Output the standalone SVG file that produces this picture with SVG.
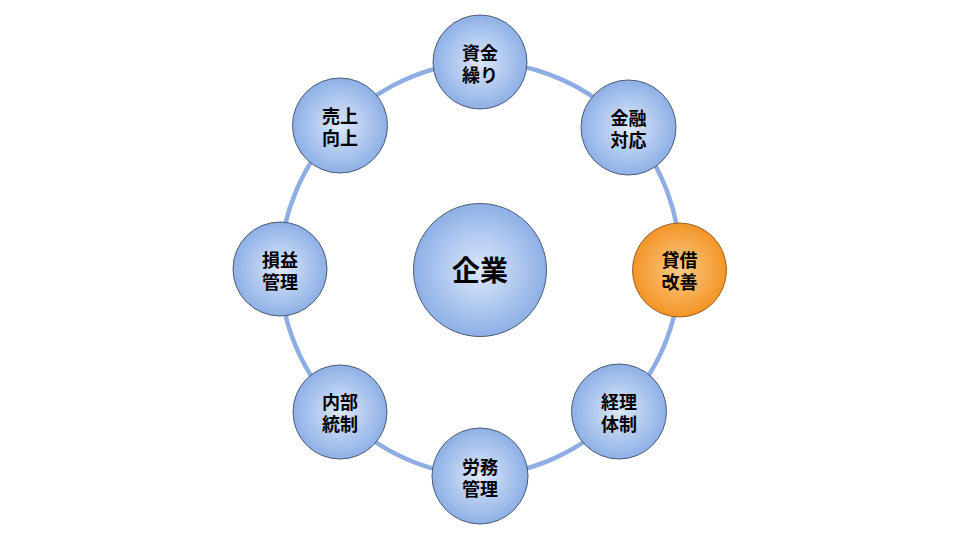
<svg xmlns="http://www.w3.org/2000/svg" width="960" height="540" viewBox="0 0 960 540">
<defs>
<radialGradient id="gb" cx="50%" cy="50%" r="50%">
<stop offset="0" stop-color="#dde8fb"/>
<stop offset="1" stop-color="#8eb0e6"/>
</radialGradient>
<radialGradient id="go" cx="50%" cy="50%" r="50%">
<stop offset="0" stop-color="#fcc985"/>
<stop offset="1" stop-color="#f39528"/>
</radialGradient>
<style>
.n{fill:url(#gb);stroke:#4d5b74;stroke-width:1}
.o{fill:url(#go);stroke:#9a6226;stroke-width:1}
.t{font-family:"Noto Sans CJK JP","Noto Sans CJK SC",sans-serif;font-weight:bold;font-size:18px;fill:#000;text-anchor:middle;dominant-baseline:central}
.c{font-size:28px}
.r{fill:none;stroke:#8eaee3;stroke-width:4.5}
</style>
</defs>
<rect width="960" height="540" fill="#fff"/>
<g id="connectors">
<path class="r" d="M480,62 A203,203 0 0 1 628,127 A203,203 0 0 1 680,270 A203,203 0 0 1 619,412 A203,203 0 0 1 480,476 A203,203 0 0 1 340,412 A203,203 0 0 1 280,269 A203,203 0 0 1 340,126 A203,203 0 0 1 480,62 Z"/>
</g>
<g id="center"><circle class="n" cx="480" cy="270" r="66.5"/><text class="t c" x="480" y="269">企業</text></g>
<g id="n1"><circle class="n" cx="480" cy="62" r="47"/><text class="t" x="480" y="52">資金<tspan x="480" dy="21.5">繰り</tspan></text></g>
<g id="n2"><circle class="n" cx="628.5" cy="127.5" r="47.5"/><text class="t" x="628.5" y="117">金融<tspan x="628.5" dy="21.5">対応</tspan></text></g>
<g id="n3"><circle class="o" cx="679.5" cy="270" r="47"/><text class="t" x="679.5" y="259">貸借<tspan x="679.5" dy="21.5">改善</tspan></text></g>
<g id="n4"><circle class="n" cx="619" cy="411.5" r="47.5"/><text class="t" x="619" y="401">経理<tspan x="619" dy="21.5">体制</tspan></text></g>
<g id="n5"><circle class="n" cx="480" cy="476" r="48"/><text class="t" x="480" y="466">労務<tspan x="480" dy="21.5">管理</tspan></text></g>
<g id="n6"><circle class="n" cx="340" cy="412" r="47"/><text class="t" x="340" y="401">内部<tspan x="340" dy="21.5">統制</tspan></text></g>
<g id="n7"><circle class="n" cx="280" cy="269" r="47"/><text class="t" x="280" y="259">損益<tspan x="280" dy="21.5">管理</tspan></text></g>
<g id="n8"><circle class="n" cx="340" cy="125.5" r="47.5"/><text class="t" x="340" y="115">売上<tspan x="340" dy="21.5">向上</tspan></text></g>
</svg>
